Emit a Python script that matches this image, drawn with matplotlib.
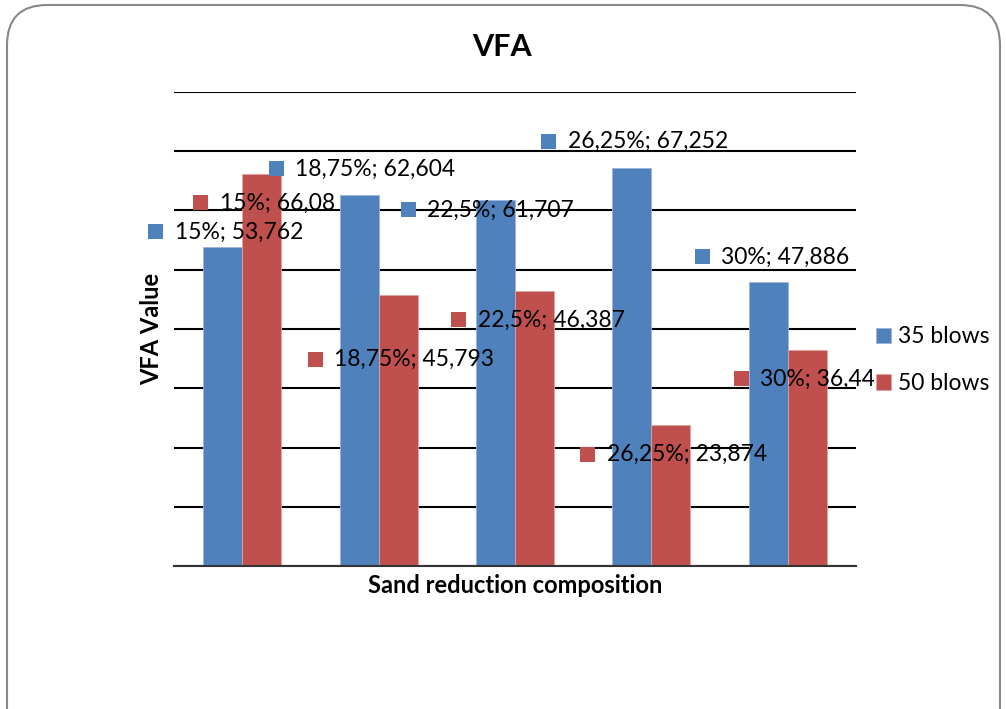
import matplotlib
matplotlib.use("Agg")
import matplotlib.pyplot as plt
import matplotlib.transforms as mtransforms
from matplotlib.patches import FancyBboxPatch
import numpy as np

plt.rcParams['font.family'] = ['Lato', 'DejaVu Sans']

categories = ["15%", "18,75%", "22,5%", "26,25%", "30%"]
blows35 = [53.762, 62.604, 61.707, 67.252, 47.886]
blows50 = [66.08, 45.793, 46.387, 23.874, 36.446]
label35 = ["53,762", "62,604", "61,707", "67,252", "47,886"]
label50 = ["66,08", "45,793", "46,387", "23,874", "36,446"]

# label offsets (pixels, from bar top centre): dx, dy (down positive)
off35 = [(-75, -16), (-91, -27), (-95, 9), (-91, -27), (-74, -26)]
off50 = [(-69, 28), (-91, 64), (-84, 28), (-91, 29), (-74, 28)]

blue = "#4F81BD"
red = "#C0504D"

W, H = 1006, 709
fig = plt.figure(figsize=(W / 100, H / 100), dpi=100)
ax = fig.add_axes([174 / W, 1 - 566 / H, (856 - 174) / W, (566 - 92) / H])

x = np.arange(len(categories))
bw = 0.286
ax.bar(x - bw / 2, blows35, bw, color=blue, edgecolor="#9DB5DA", linewidth=0.6, label="35 blows", zorder=2)
ax.bar(x + bw / 2, blows50, bw, color=red, edgecolor="#E0A3A1", linewidth=0.6, label="50 blows", zorder=2)

ax.set_xlim(-0.5, len(categories) - 0.5)
ax.set_ylim(0, 80)
ax.set_yticks(np.arange(0, 81, 10))
ax.yaxis.grid(True, color="black", linewidth=1.5, zorder=0)
ax.set_axisbelow(True)
ax.tick_params(left=False, bottom=False, labelleft=False, labelbottom=False)
for s in ["left", "right", "top"]:
    ax.spines[s].set_visible(False)
ax.spines["bottom"].set_color("#333333")
ax.spines["bottom"].set_linewidth(1.5)

ax.set_xlabel("Sand reduction composition", fontsize=17, fontweight="bold", labelpad=6)
ax.set_ylabel("VFA Value", fontsize=17, fontweight="bold", labelpad=8)
fig.text(502 / W, 1 - 47 / H, "VFA", ha="center", va="center", fontsize=22, fontweight="bold")

def add_label(xc, val, txt, cat, off, col):
    dx, dy = off
    tr = mtransforms.offset_copy(ax.transData, fig=fig, x=dx + 7.5, y=-dy, units="dots")
    ax.plot([xc], [val], marker="s", markersize=10.8, color=col, transform=tr,
            clip_on=False, zorder=5, markeredgewidth=0, linestyle="none")
    tr2 = mtransforms.offset_copy(ax.transData, fig=fig, x=dx + 27, y=-dy - 1, units="dots")
    ax.text(xc, val, f"{cat}; {txt}", transform=tr2, fontsize=16.5, va="center", ha="left",
            clip_on=False, zorder=5)

for i in range(len(categories)):
    add_label(x[i] - bw / 2, blows35[i], label35[i], categories[i], off35[i], blue)
    add_label(x[i] + bw / 2, blows50[i], label50[i], categories[i], off50[i], red)

leg = ax.legend(loc="upper left", bbox_to_anchor=(874 / W, 1 - 324 / H), bbox_transform=fig.transFigure,
                fontsize=16.5, frameon=True, handlelength=0.65, handleheight=0.65, handletextpad=0.3,
                labelspacing=1.12, borderpad=0.1, borderaxespad=0)
leg.get_frame().set_facecolor("white")
leg.get_frame().set_edgecolor("none")
leg.get_frame().set_alpha(1)
leg.set_zorder(10)

frame = FancyBboxPatch((7 / W, -0.1), (1000 - 7) / W, (1 - 5 / H) + 0.1, boxstyle="round,pad=0,rounding_size=0.04",
                       transform=fig.transFigure, facecolor="none", edgecolor="#888888", linewidth=1.5,
                       mutation_aspect=W / H)
fig.patches.append(frame)

fig.savefig("out.png", dpi=100)
